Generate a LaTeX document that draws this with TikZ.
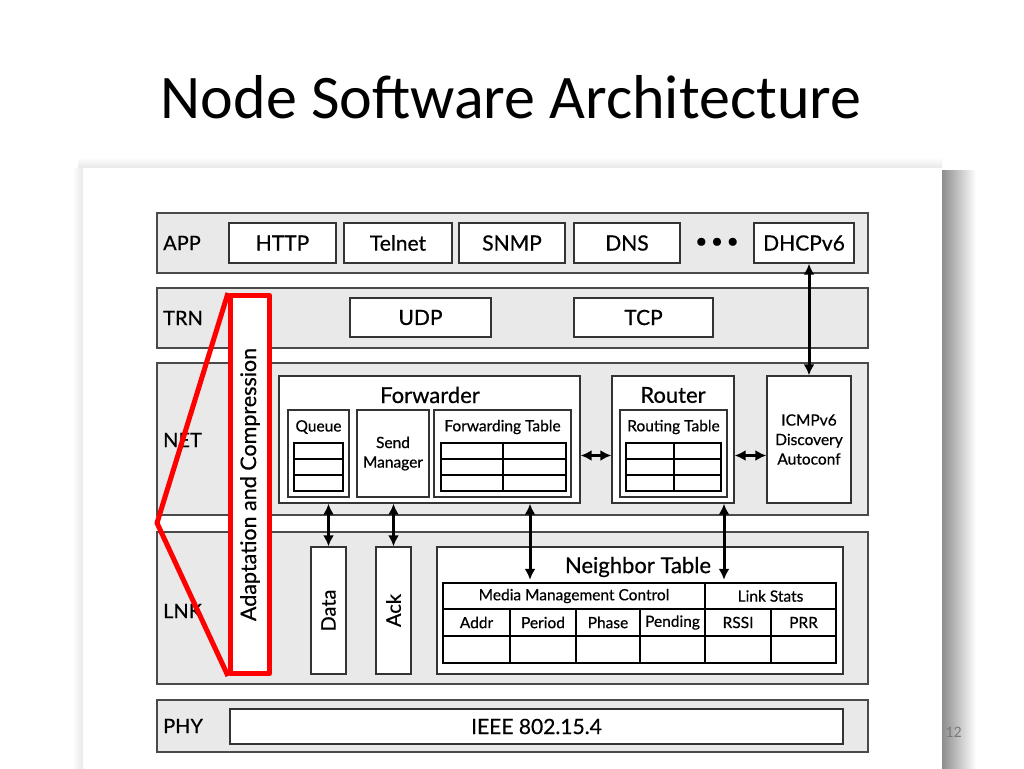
\documentclass[tikz,border=0pt]{standalone}
\usepackage{fontspec}
\setmainfont{Lato}[FakeBold=0.6]
\newfontfamily\titlefont{Carlito}
\usetikzlibrary{arrows.meta}
\definecolor{bandgray}{HTML}{E9E9E9}
\definecolor{edgegray}{HTML}{4A4A4A}
\definecolor{boxedge}{HTML}{333333}
\definecolor{slidered}{HTML}{FF0000}
\definecolor{numgray}{HTML}{7A7A7A}

\begin{document}
\begin{tikzpicture}[x=1pt, y=-1pt,
  layer/.style={draw=edgegray, fill=bandgray, line width=1.4pt, inner sep=0pt, minimum width=711pt},
  box/.style={draw=boxedge, fill=white, line width=1.4pt, inner sep=0pt, align=center},
  tag/.style={anchor=west, inner sep=0pt, font=\fontsize{20}{20}\selectfont},
  big/.style={font=\fontsize{21}{22}\selectfont},
  small/.style={inner sep=0pt, align=center, font=\fontsize{15.5}{19.5}\selectfont},
  head/.style={inner sep=0pt, font=\fontsize{22}{24}\selectfont},
  tabline/.style={line width=2.8pt},
  link/.style={{Latex[length=11pt,width=11pt]}-{Latex[length=11pt,width=11pt]}, line width=3pt},
  callout/.style={draw=slidered, line width=5pt, line join=round}]
  \useasboundingbox (0,0) rectangle (1024,768);

  % slide and picture frame
  \shade[top color=white, bottom color=black!9] (78,157) rectangle (942,168);
  \shade[left color=white, right color=black!9] (72,168) rectangle (83,768);
  \shade[left color=black!45, right color=white] (942,170) rectangle (976,768);
  \fill[white] (83,168) rectangle (942,768);
  \node[font=\titlefont\fontsize{62}{70}\selectfont, anchor=base] (title) at (511,118) {Node Software Architecture};
  \node[font=\titlefont\fontsize{16}{16}\selectfont, text=numgray, inner sep=0pt] (pagenum) at (953.5,732) {12};

  % layers
  \node[layer, minimum height=60pt] (app) at (512.5,243) {};
  \node[layer, minimum height=60pt] (trn) at (512.5,318) {};
  \node[layer, minimum height=152pt] (net) at (512.5,439) {};
  \node[layer, minimum height=152pt] (lnk) at (512.5,608) {};
  \node[layer, minimum height=52pt] (phy) at (512.5,726) {};
  \node[tag] (appname) at (163,243) {APP};
  \node[tag] (trnname) at (163,318) {TRN};
  \node[tag] (netname) at (163,440) {NET};
  \node[tag] (lnkname) at (163,611) {LNK};
  \node[tag] (phyname) at (163,726) {PHY};

  % APP
  \node[box, big, minimum width=107pt, minimum height=40pt] (http) at (282.5,243) {HTTP};
  \node[box, big, minimum width=108pt, minimum height=40pt] (telnet) at (398,243) {Telnet};
  \node[box, big, minimum width=106pt, minimum height=40pt] (snmp) at (512,243) {SNMP};
  \node[box, big, minimum width=106pt, minimum height=40pt] (dns) at (627,243) {DNS};
  \node[big] (dots) at (717,243) {\textbullet\,\textbullet\,\textbullet};
  \node[box, big, minimum width=100pt, minimum height=40pt] (dhcp) at (804,243) {DHCPv6};

  % TRN
  \node[box, big, minimum width=141pt, minimum height=39pt] (udp) at (420.5,317.5) {UDP};
  \node[box, big, minimum width=139pt, minimum height=39pt] (tcp) at (643.5,317.5) {TCP};

  % NET
  \node[box, minimum width=301pt, minimum height=127pt] (fwd) at (429.5,439.5) {};
  \node[head] (fwdname) at (430,395) {Forwarder};
  \node[box, minimum width=61pt, minimum height=87pt] (queue) at (318.5,453.5) {};
  \node[small] (queuename) at (318.5,427) {Queue};
  \node[box, small, minimum width=72pt, minimum height=87pt] (sendmgr) at (393,453.5) {Send\\Manager};
  \node[box, minimum width=137pt, minimum height=87pt] (fwdtab) at (502.5,453.5) {};
  \node[small] (fwdtabname) at (502.5,427) {Forwarding Table};
  \node[box, minimum width=122pt, minimum height=127pt] (rtr) at (673,439.5) {};
  \node[head] (rtrname) at (673,395) {Router};
  \node[box, minimum width=107pt, minimum height=87pt] (rtab) at (673.5,453.5) {};
  \node[small] (rtabname) at (673.5,427) {Routing Table};
  \node[box, small, minimum width=84pt, minimum height=127pt] (icmp) at (809,439.5) {ICMPv6\\Discovery\\Autoconf};
  \draw[tabline] (294,443) rectangle (343,491);
  \foreach \y in {459,475} \draw[tabline] (294,\y) -- (343,\y);
  \foreach \xa/\xm/\xb in {441/503/566, 626/674/721} {
    \draw[tabline] (\xa,443) rectangle (\xb,491);
    \foreach \y in {459,475} \draw[tabline] (\xa,\y) -- (\xb,\y);
    \draw[tabline] (\xm,443) -- (\xm,491);
  }

  % LNK
  \node[box, minimum width=35pt, minimum height=127pt, font=\fontsize{20}{20}\selectfont] (data) at (328.5,610.5) {\rotatebox{90}{Data}};
  \node[box, minimum width=35pt, minimum height=127pt, font=\fontsize{20}{20}\selectfont] (ack) at (393.5,610.5) {\rotatebox{90}{Ack}};
  \node[box, minimum width=406pt, minimum height=127pt] (nbr) at (640,610.5) {};
  \node[head] (nbrname) at (638,567) {Neighbor Table};
  \node[small, minimum width=262pt, minimum height=26pt] (mmc) at (574,596) {Media Management Control};
  \node[small, minimum width=131pt, minimum height=26pt] (lstats) at (770.5,596) {Link Stats};
  \foreach \x/\txt in {476.5/Addr, 543/Period, 608/Phase, 672.5/Pending, 738/RSSI, 803.5/PRR}
    \node[small] at (\x,622.5) {\txt};
  \draw[tabline] (443,583) rectangle (836,663);
  \foreach \y in {609,636} \draw[tabline] (443,\y) -- (836,\y);
  \draw[tabline] (705,583) -- (705,663);
  \foreach \x in {510,576,640,771} \draw[tabline] (\x,609) -- (\x,663);

  % PHY
  \node[box, big, minimum width=613pt, minimum height=35pt] (ieee) at (536.5,726.5) {IEEE 802.15.4};

  % connectors
  \draw[link] (dhcp.south -| icmp.north) -- (icmp.north);
  \draw[link] ([yshift=-16pt]fwd.east) -- ([yshift=-16pt]rtr.west);
  \draw[link] ([yshift=-16pt]rtr.east) -- ([yshift=-16pt]icmp.west);
  \draw[link] (data.north |- fwd.south) -- (data.north);
  \draw[link] (ack.north |- fwd.south) -- (ack.north);
  \draw[link, shorten >=3pt] (530,0 |- fwd.south) -- (530,0 |- mmc.north);
  \draw[link, shorten >=3pt] (724,0 |- rtr.south) -- (724,0 |- lstats.north);

  % adaptation column and callout
  \node[callout, fill=white, minimum width=39pt, minimum height=378pt, inner sep=0pt, font=\fontsize{21.5}{22}\selectfont] (adapt) at (250,484.5) {\rotatebox{90}{Adaptation and Compression}};
  \coordinate (apex) at (157,523);
  \draw[callout] (adapt.north west) -- (apex) -- (adapt.south west);
\end{tikzpicture}
\end{document}
